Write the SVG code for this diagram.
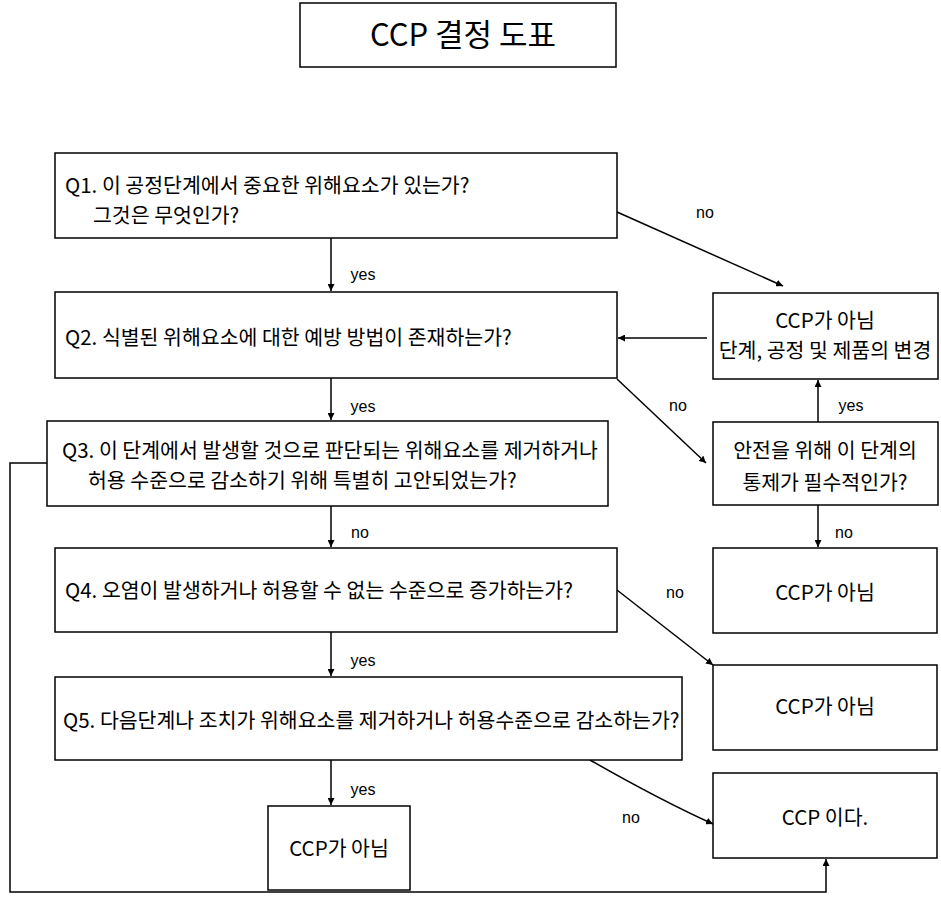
<svg xmlns="http://www.w3.org/2000/svg" width="941" height="901" viewBox="0 0 941 901">
<style>
.box{fill:#fff;stroke:#000;stroke-width:1.5}
.t{font-family:"Noto Sans CJK KR","Liberation Sans",sans-serif;font-size:20.5px;fill:#000}
.c{text-anchor:middle}
.lbl{font-family:"Liberation Sans","Noto Sans CJK KR",sans-serif;font-size:16px;fill:#000;text-anchor:middle}
.ln{fill:none;stroke:#000;stroke-width:1.5}
</style>
<defs>
<marker id="ah" viewBox="0 0 10 10" refX="10" refY="5" markerWidth="7" markerHeight="7" orient="auto" markerUnits="userSpaceOnUse">
<path d="M0,0 L10,5 L0,10 z" fill="#000"/>
</marker>
</defs>
<rect width="941" height="901" fill="#fff"/>
<g id="title">
<rect class="box" x="300" y="3" width="316" height="64"/>
<text class="t c" x="463" y="46" style="font-size:31px">CCP 결정 도표</text>
</g>
<g id="connectors">
<line class="ln" x1="331" y1="238" x2="331" y2="291" marker-end="url(#ah)"/>
<line class="ln" x1="617" y1="212" x2="783" y2="286" marker-end="url(#ah)"/>
<line class="ln" x1="707" y1="338" x2="618" y2="338" marker-end="url(#ah)"/>
<line class="ln" x1="331" y1="378" x2="331" y2="420" marker-end="url(#ah)"/>
<line class="ln" x1="617" y1="379" x2="706" y2="463" marker-end="url(#ah)"/>
<line class="ln" x1="818" y1="422" x2="818" y2="380" marker-end="url(#ah)"/>
<line class="ln" x1="818" y1="505" x2="818" y2="547" marker-end="url(#ah)"/>
<line class="ln" x1="331" y1="506" x2="331" y2="547" marker-end="url(#ah)"/>
<line class="ln" x1="331" y1="632" x2="331" y2="676" marker-end="url(#ah)"/>
<line class="ln" x1="617" y1="590" x2="713" y2="665" marker-end="url(#ah)"/>
<line class="ln" x1="331" y1="760" x2="331" y2="805" marker-end="url(#ah)"/>
<path class="ln" d="M590,760 Q660,800 713,824" marker-end="url(#ah)"/>
<path class="ln" d="M47,463 H10 V892 H826 V859" marker-end="url(#ah)"/>
<text class="lbl" x="705" y="218">no</text>
<text class="lbl" x="363" y="280">yes</text>
<text class="lbl" x="363" y="412">yes</text>
<text class="lbl" x="678" y="411">no</text>
<text class="lbl" x="851" y="411">yes</text>
<text class="lbl" x="360" y="538">no</text>
<text class="lbl" x="844" y="538">no</text>
<text class="lbl" x="675" y="598">no</text>
<text class="lbl" x="363" y="666">yes</text>
<text class="lbl" x="363" y="795">yes</text>
<text class="lbl" x="631" y="823">no</text>
</g>
<g id="q1">
<rect class="box" x="55" y="153" width="562" height="85"/>
<text class="t" x="65" y="193">Q1. 이 공정단계에서 중요한 위해요소가 있는가?</text>
<text class="t" x="93" y="223">그것은 무엇인가?</text>
</g>
<g id="q2">
<rect class="box" x="55" y="292" width="562" height="86"/>
<text class="t" x="65" y="345">Q2. 식별된 위해요소에 대한 예방 방법이 존재하는가?</text>
</g>
<g id="q3">
<rect class="box" x="47" y="421" width="561" height="85"/>
<text class="t" x="62" y="458">Q3. 이 단계에서 발생할 것으로 판단되는 위해요소를 제거하거나</text>
<text class="t" x="88" y="488">허용 수준으로 감소하기 위해 특별히 고안되었는가?</text>
</g>
<g id="q4">
<rect class="box" x="55" y="548" width="562" height="84"/>
<text class="t" x="65" y="598">Q4. 오염이 발생하거나 허용할 수 없는 수준으로 증가하는가?</text>
</g>
<g id="q5">
<rect class="box" x="55" y="677" width="627" height="83"/>
<text class="t" x="63" y="728">Q5. 다음단계나 조치가 위해요소를 제거하거나 허용수준으로 감소하는가?</text>
</g>
<g id="notccp-change">
<rect class="box" x="713" y="293" width="225" height="86"/>
<text class="t c" x="825" y="328">CCP가 아님</text>
<text class="t c" x="825" y="358">단계, 공정 및 제품의 변경</text>
</g>
<g id="control-needed">
<rect class="box" x="713" y="422" width="225" height="83"/>
<text class="t c" x="825" y="458">안전을 위해 이 단계의</text>
<text class="t c" x="825" y="490">통제가 필수적인가?</text>
</g>
<g id="notccp-1">
<rect class="box" x="713" y="548" width="224" height="85"/>
<text class="t c" x="825" y="600">CCP가 아님</text>
</g>
<g id="notccp-2">
<rect class="box" x="713" y="665" width="224" height="85"/>
<text class="t c" x="825" y="714">CCP가 아님</text>
</g>
<g id="ccp">
<rect class="box" x="713" y="773" width="224" height="85"/>
<text class="t c" x="825" y="825">CCP 이다.</text>
</g>
<g id="notccp-3">
<rect class="box" x="268" y="806" width="142" height="84"/>
<text class="t c" x="339" y="856">CCP가 아님</text>
</g>
</svg>
